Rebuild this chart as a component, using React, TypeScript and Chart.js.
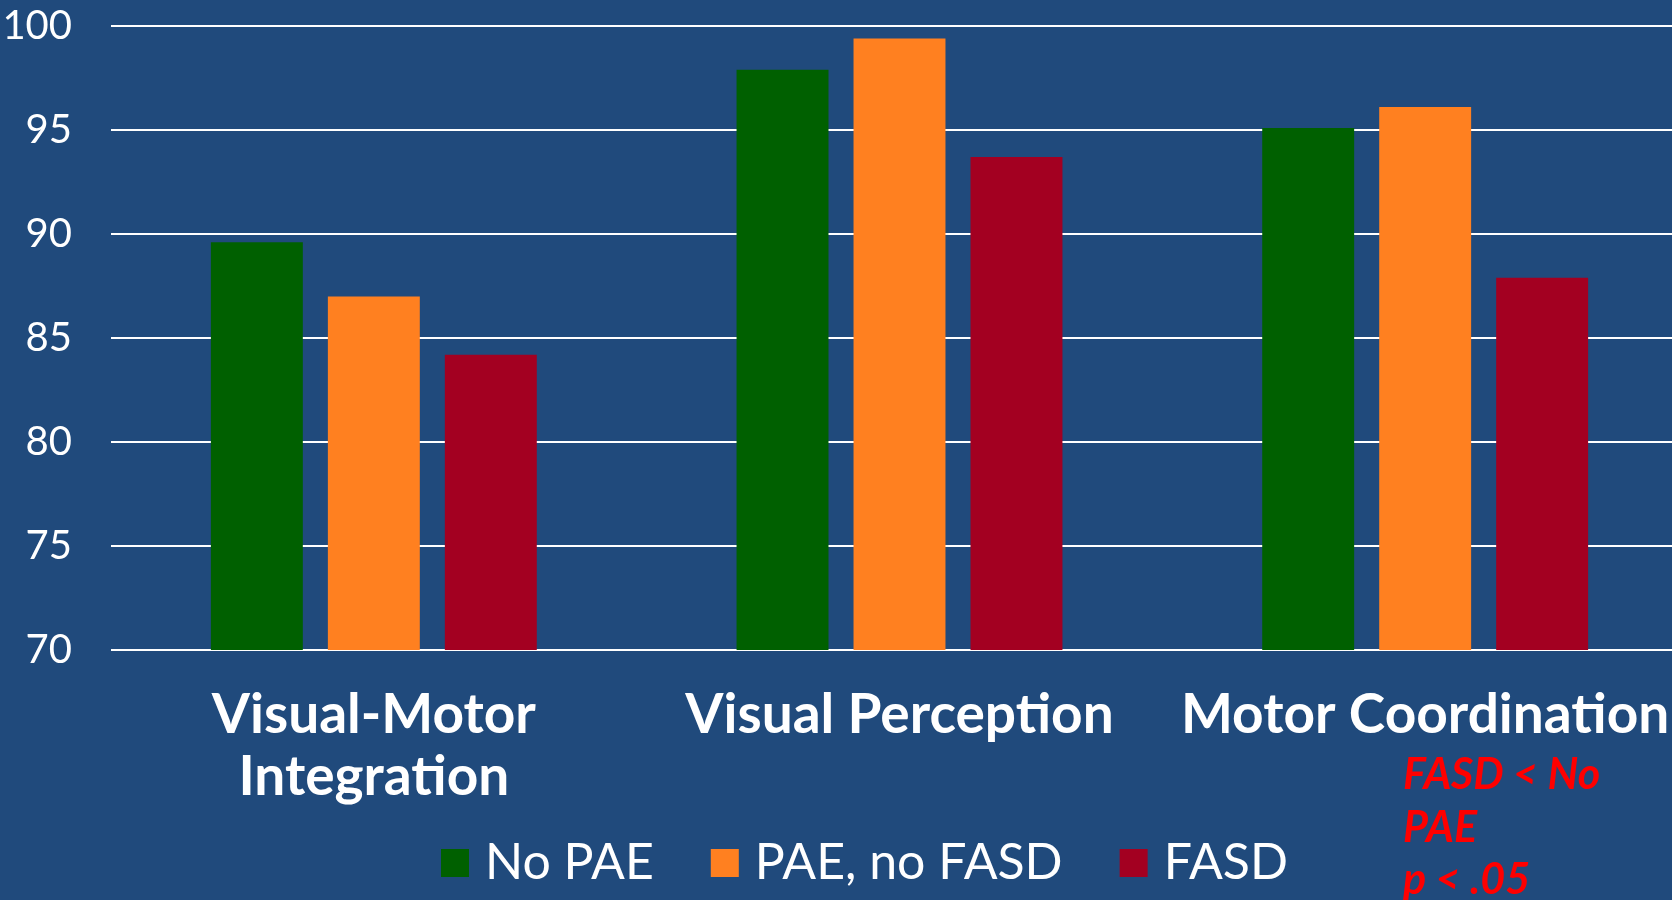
import React, { useEffect, useRef } from "react";
import { Chart, registerables } from "chart.js";

Chart.register(...registerables);

const categories: (string | string[])[] = [["Visual-Motor", "Integration"], "Visual Perception", "Motor Coordination"];
const seriesNames = ["No PAE", "PAE, no FASD", "FASD"];
const noPae = [89.6, 97.9, 95.1];
const paeNoFasd = [87.0, 99.4, 96.1];
const fasd = [84.2, 93.7, 87.9];
const seriesColors = ["#006000", "#FF8020", "#A30021"];
const yMin = 70;
const yMax = 100;
const yStep = 5;
const noteLines = ["FASD < No", "PAE", "p < .05"];

const BG = "#204A7C";

const customLegend = {
  id: "customLegend",
  afterDraw(chart: any) {
    const ctx = chart.ctx;
    ctx.save();
    ctx.font = "50px Lato";
    ctx.textBaseline = "alphabetic";
    ctx.textAlign = "left";
    let x = 441;
    chart.data.datasets.forEach((ds: any) => {
      ctx.fillStyle = ds.backgroundColor;
      ctx.fillRect(x, 849, 28, 28);
      ctx.fillStyle = "#FFFFFF";
      const tx = x + 28 + 16;
      ctx.fillText(ds.label, tx, 879);
      x = tx + ctx.measureText(ds.label).width + 57;
    });
    ctx.restore();
  },
};

const notePlugin = {
  id: "notePlugin",
  afterDraw(chart: any) {
    const ctx = chart.ctx;
    ctx.save();
    ctx.font = "italic bold 43px Lato";
    ctx.fillStyle = "#FF0000";
    ctx.textAlign = "left";
    ctx.textBaseline = "alphabetic";
    const baselines = [789, 842, 894];
    noteLines.forEach((t, i) => ctx.fillText(t, 1403, baselines[i]));
    ctx.restore();
  },
};

export default function App() {
  const ref = useRef<HTMLCanvasElement | null>(null);
  useEffect(() => {
    if (!ref.current) return;
    const chart = new Chart(ref.current, {
      type: "bar",
      data: {
        labels: categories,
        datasets: [
          { label: seriesNames[0], data: noPae, backgroundColor: seriesColors[0] },
          { label: seriesNames[1], data: paeNoFasd, backgroundColor: seriesColors[1] },
          { label: seriesNames[2], data: fasd, backgroundColor: seriesColors[2] },
        ],
      },
      options: {
        animation: false,
        responsive: true,
        maintainAspectRatio: false,
        layout: { padding: { left: 0, right: 12, top: 26, bottom: 0 } },
        datasets: {
          bar: { categoryPercentage: 0.6676, barPercentage: 0.786 },
        },
        plugins: {
          legend: { display: false },
          tooltip: { enabled: false },
        },
        scales: {
          x: {
            grid: { display: false, drawTicks: false },
            border: { display: false },
            ticks: {
              color: "#FFFFFF",
              font: { family: "Lato", size: 55, weight: "bold", lineHeight: 1.13 },
              padding: 34,
              maxRotation: 0,
              autoSkip: false,
            },
            afterFit: (scale: any) => {
              scale.height = 250;
              scale.paddingLeft = 0;
              scale.paddingRight = 0;
              scale.paddingTop = 0;
              scale.paddingBottom = 0;
            },
          },
          y: {
            min: yMin,
            max: yMax,
            grid: { color: "#FFFFFF", lineWidth: 2, drawTicks: false },
            border: { display: false },
            ticks: {
              stepSize: yStep,
              color: "#FFFFFF",
              font: { family: "Lato", size: 40 },
              padding: 39,
            },
            afterFit: (scale: any) => {
              scale.width = 111;
              scale.paddingLeft = 0;
              scale.paddingRight = 0;
              scale.paddingTop = 0;
              scale.paddingBottom = 0;
            },
          },
        },
      },
      plugins: [customLegend, notePlugin],
    });
    return () => chart.destroy();
  }, []);

  return (
    <div
      style={{
        position: "absolute",
        left: 0,
        top: 0,
        width: 1672,
        height: 900,
        overflow: "hidden",
        background: BG,
      }}
    >
      <div style={{ position: "relative", width: 1700, height: 900 }}>
        <canvas ref={ref} />
      </div>
    </div>
  );
}
